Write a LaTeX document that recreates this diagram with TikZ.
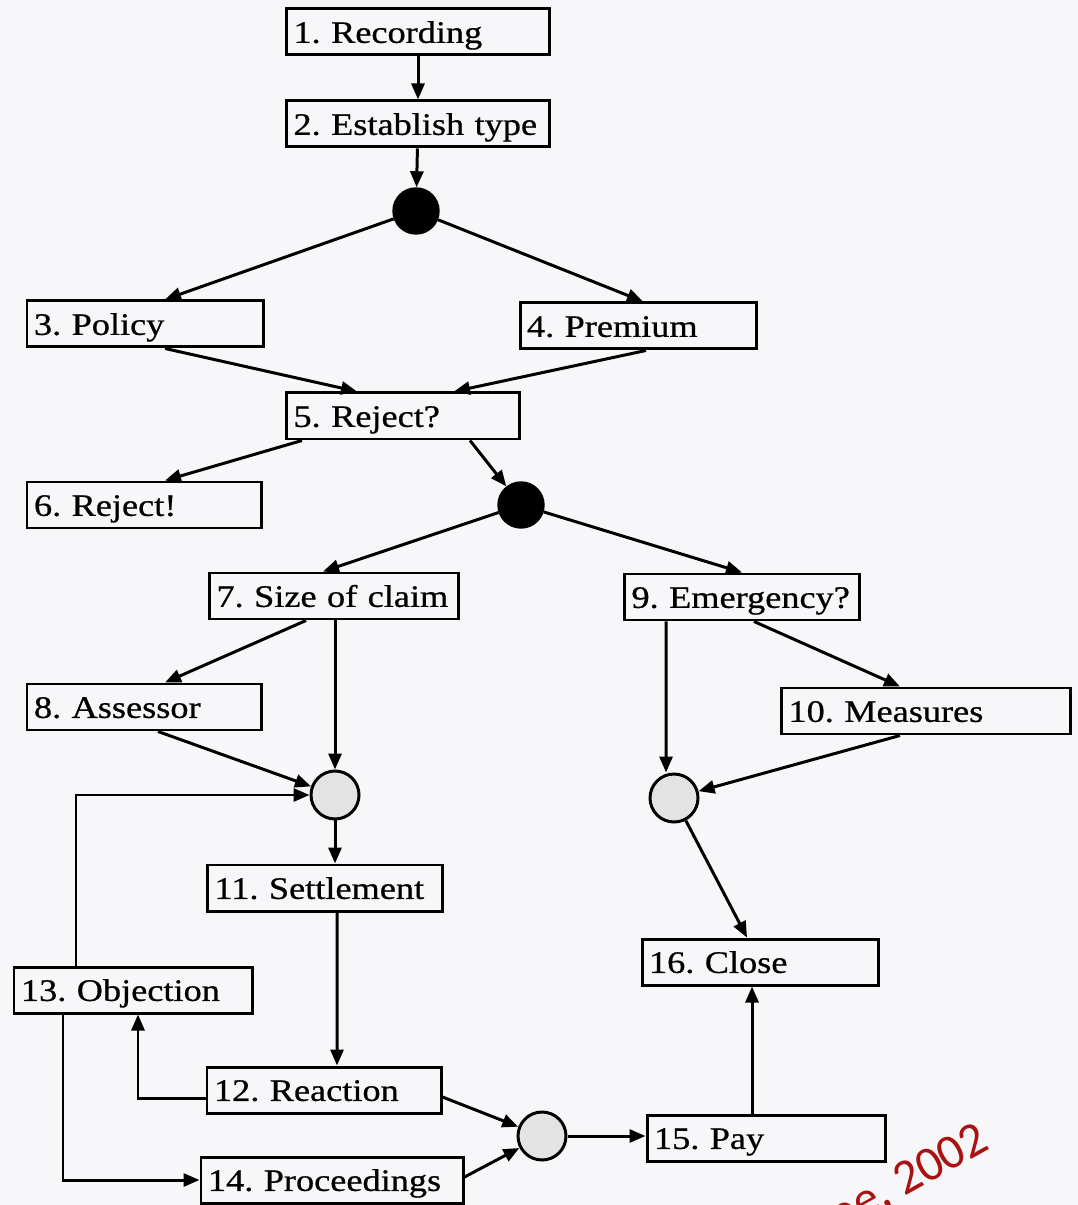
\documentclass[tikz,border=0pt]{standalone}
\usepackage{fontspec}
\setmainfont{Liberation Serif}[FakeStretch=1.16, FakeBold=0.7]
\newfontfamily\notefont{Carlito}
\usetikzlibrary{arrows.meta}
\definecolor{paper}{RGB}{247,247,249}
\definecolor{notered}{RGB}{170,18,18}
\tikzset{
    task/.style = {draw, line width=0.85pt, text width=#1, align=left, inner xsep=0.07cm,
        inner ysep=0pt, minimum height=0.46cm, text height=1.7ex, text depth=0.35ex,
        font=\fontsize{8.9}{10}\selectfont\frenchspacing},
    fork/.style = {circle, draw, fill=black, minimum size=0.46cm, inner sep=0pt},
    sync/.style = {circle, draw, line width=0.85pt, fill=gray!22, minimum size=0.48cm, inner sep=0pt},
    flow/.style = {line width=0.85pt, -{Triangle[length=1.6mm, width=1.3mm]}}
}
\begin{document}
\begin{tikzpicture}
    \useasboundingbox[fill=paper] (0,0) rectangle (10.78,-12.05);
    \node[task=2.49cm] (t1) at (4.18,-0.32) {1. Recording};
    \node[task=2.49cm] (t2) at (4.18,-1.24) {2. Establish type};
    \node[fork] (f1) at (4.16,-2.11) {};
    \node[task=2.22cm] (t3) at (1.45,-3.24) {3. Policy};
    \node[task=2.22cm] (t4) at (6.38,-3.26) {4. Premium};
    \node[task=2.19cm] (t5) at (4.03,-4.16) {5. Reject?};
    \node[task=2.20cm] (t6) at (1.44,-5.05) {6. Reject!};
    \node[fork] (f2) at (5.21,-5.05) {};
    \node[task=2.35cm] (t7) at (3.34,-5.96) {7. Size of claim};
    \node[task=2.21cm] (t9) at (7.42,-5.97) {9. Emergency?};
    \node[task=2.20cm] (t8) at (1.44,-7.07) {8. Assessor};
    \node[task=2.75cm] (t10) at (9.26,-7.11) {10. Measures};
    \node[sync] (j1) at (3.35,-7.95) {};
    \node[sync] (j2) at (6.74,-7.98) {};
    \node[task=2.21cm] (t11) at (3.25,-8.88) {11. Settlement};
    \node[task=2.24cm] (t13) at (1.33,-9.90) {13. Objection};
    \node[task=2.22cm] (t16) at (7.60,-9.62) {16. Close};
    \node[task=2.20cm] (t12) at (3.24,-10.90) {12. Reaction};
    \node[sync] (j3) at (5.42,-11.36) {};
    \node[task=2.24cm] (t15) at (7.66,-11.38) {15. Pay};
    \node[task=2.48cm] (t14) at (3.32,-11.80) {14. Proceedings};

    \draw[flow] (t1) -- (t2);
    \draw[flow] (t2) -- (f1);
    \draw[flow] (f1) -- ([xshift=0.2cm]t3.north);
    \draw[flow] (f1) -- ([xshift=0.05cm]t4.north);
    \draw[flow] ([xshift=0.2cm]t3.south) -- ([xshift=-0.46cm]t5.north);
    \draw[flow] ([xshift=0.08cm]t4.south) -- ([xshift=0.51cm]t5.north);
    \draw[flow] ([xshift=-1.01cm]t5.south) -- ([xshift=0.21cm]t6.north);
    \draw[flow] ([xshift=0.67cm]t5.south) -- (f2);
    \draw[flow] (f2) -- ([xshift=-0.11cm]t7.north);
    \draw[flow] (f2) -- (t9.north);
    \draw[flow] ([xshift=-0.28cm]t7.south) -- ([xshift=0.21cm]t8.north);
    \draw[flow] (t7.south -| j1) -- (j1);
    \draw[flow] ([xshift=-0.76cm]t9.south) -- ([xshift=-0.08cm]j2.north);
    \draw[flow] ([xshift=0.12cm]t9.south) -- ([xshift=-0.26cm]t10.north);
    \draw[flow] ([xshift=-0.26cm]t10.south) -- (j2);
    \draw[flow] ([xshift=0.14cm]t8.south) -- (j1);
    \draw[flow] ([xshift=-0.57cm]t13.north) |- (j1.west);
    \draw[flow] (j1) -- (j1 |- t11.north);
    \draw[flow] ([xshift=0.12cm]t11.south) -- ([xshift=0.13cm]t12.north);
    \draw[flow] ([yshift=-0.08cm]t12.west) -| ([xshift=0.05cm]t13.south);
    \draw[flow] ([xshift=-0.70cm]t13.south) |- (t14.west);
    \draw[flow] ([yshift=-0.07cm]t12.east) -- (j3);
    \draw[flow] ([yshift=0.03cm]t14.east) -- (j3);
    \draw[flow] (j3) -- (j3 -| t15.west);
    \draw[flow] ([xshift=-0.14cm]t15.north) -- ([xshift=-0.14cm]t15.north |- t16.south);
    \draw[flow] (j2) -- ([xshift=-0.13cm]t16.north);

    \begin{scope}
        \clip (0,0) rectangle (10.78,-12.05);
        \node[text=notered, rotate=29, anchor=base east, inner sep=0pt,
            font=\notefont\fontsize{14}{16}\selectfont] (src) at (9.92,-11.48) {Hee, 2002};
    \end{scope}
\end{tikzpicture}
\end{document}
